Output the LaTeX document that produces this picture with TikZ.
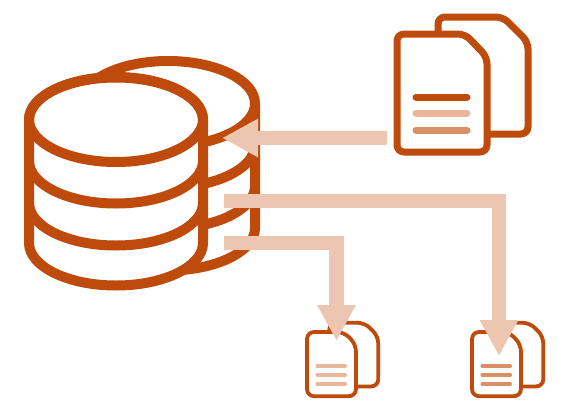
\documentclass[tikz,border=0pt]{standalone}
\usetikzlibrary{arrows.meta}
\definecolor{rust}{HTML}{BE4A0B}
\definecolor{rustmid}{HTML}{D98F68}
\definecolor{rustpale}{HTML}{E9B699}
\definecolor{flow}{HTML}{EDC6B1}
\tikzset{
  disk/.style={draw=rust,line width=10pt,fill=white},
  rim/.style={draw=rust,line width=10pt},
  flowline/.style={draw=flow,line width=14.5pt,-{Triangle[width=36pt,length=36pt]}},
  pics/docpair/.style n args={4}{code={
    \begin{scope}[scale=#1,line width=#1*7pt,line join=round]
      \draw[draw=rust,rounded corners=7pt] (41,0) -- (41,17) -- (106,17) -- (131,-8) -- (131,-100) -- (85,-100);
      \draw[draw=rust,fill=white,rounded corners=7pt] (0,0) -- (0,-118) -- (90,-118) -- (90,-23) -- (68,0) -- cycle;
      \draw[#2,line cap=round] (19,-63) -- (70,-63);
      \draw[#3,line cap=round] (19,-79) -- (70,-79);
      \draw[#4,line cap=round] (19,-96) -- (70,-96);
    \end{scope}
  }}
}
\begin{document}
\begin{tikzpicture}[x=1pt,y=1pt]
  \useasboundingbox (0,-418) rectangle (576,0);

  \draw[rim] (168,-103.5) ellipse [x radius=87,y radius=42.5];
  \draw[rim] (81,-145) arc [start angle=180,end angle=360,x radius=87,y radius=42.5];
  \draw[rim] (81,-186) arc [start angle=180,end angle=360,x radius=87,y radius=42.5];
  \draw[rim] (81,-228) arc [start angle=180,end angle=360,x radius=87,y radius=42.5] -- (255,-103.5);

  \draw[disk] (29,-120) -- (29,-243) arc [start angle=180,end angle=360,x radius=87,y radius=42.5] -- (203,-120) arc [start angle=0,end angle=180,x radius=87,y radius=42.5] -- cycle;
  \draw[rim] (116,-119.5) ellipse [x radius=87,y radius=42.5];
  \draw[rim] (29,-161) arc [start angle=180,end angle=360,x radius=87,y radius=42.5];
  \draw[rim] (29,-203) arc [start angle=180,end angle=360,x radius=87,y radius=42.5];

  \pic (bigdoc) at (397,-34) {docpair={1}{rust}{rustpale}{rustmid}};
  \pic (leftdoc) at (307,-332) {docpair={0.544}{rustpale}{rustpale}{rustpale}};
  \pic (rightdoc) at (472,-332) {docpair={0.544}{rustmid}{rustmid}{rustmid}};

  \coordinate (bigout) at (387,-138);
  \coordinate (bigin) at (222,-138);
  \coordinate (midout) at (224,-201);
  \coordinate (midbend) at (499,-201);
  \coordinate (midin) at (499,-356);
  \coordinate (lowout) at (224,-243);
  \coordinate (lowbend) at (336.5,-243);
  \coordinate (lowin) at (336.5,-341);

  \draw[flowline] (bigout) -- (bigin);
  \draw[flowline] (midout) -- (midbend) -- (midin);
  \draw[flowline] (lowout) -- (lowbend) -- (lowin);
\end{tikzpicture}
\end{document}
